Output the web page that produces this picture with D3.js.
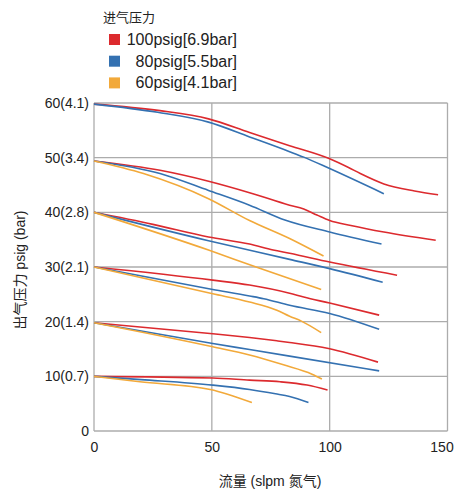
<!DOCTYPE html>
<html><head><meta charset="utf-8">
<script src="https://cdn.jsdelivr.net/npm/d3@7"></script>
<style>
body{margin:0;background:#fff;}
svg{font-family:"Liberation Sans",Arial,"Noto Sans CJK SC",sans-serif;}
</style></head>
<body><svg id="c" width="461" height="490"></svg>
<script>
// ---- data ----
const legendTitle = "进气压力";
const seriesNames = ["100psig[6.9bar]", "80psig[5.5bar]", "60psig[4.1bar]"];
const seriesColors = ["#dc2a2e", "#3471b1", "#f2a93a"];
const xTicks = [0, 50, 100, 150];
const yTicks = [0, 10, 20, 30, 40, 50, 60];
const yTickLabels = ["0", "10(0.7)", "20(1.4)", "30(2.1)", "40(2.8)", "50(3.4)", "60(4.1)"];
const xTitle = "流量 (slpm 氮气)";
const yTitle = "出气压力 psig (bar)";

// each curve: [flow slpm, outlet psig]
const curves100 = [
  [[0,59.8],[28,58.6],[48.6,57.1],[66,54.6],[83,52.2],[100,49.8],[108,48.2],[113,47.1],[123,45.2],[136,43.9],[146,43.2]],
  [[0,49.4],[28,47.7],[48.6,45.7],[66,43.6],[83,41.3],[89,40.6],[94.6,39.5],[100,38.5],[109,37.6],[123,36.4],[145,34.9]],
  [[0,40],[25,37.8],[48.6,35.5],[66,34.2],[76,33.1],[83,32.5],[100,30.9],[128.6,28.5]],
  [[0,30],[50.4,27.6],[66,26.7],[83,25.2],[89,24.5],[100,23.4],[121,21.2]],
  [[0,19.8],[50.4,17.8],[66,17.1],[77.6,16.5],[83,16.2],[99.5,15.1],[120.5,12.6]],
  [[0,10],[50.4,9.7],[66,9.3],[79,9.0],[90.4,8.4],[99.1,7.5]]
];
const curves80 = [
  [[0,59.8],[27,58.3],[48.6,56.5],[66,53.8],[83,51.1],[89,50.1],[100,48.0],[123,43.4]],
  [[0,49.4],[28,47.1],[48.6,44.0],[66,41.3],[81,38.6],[100,36.4],[122,34.2]],
  [[0,40],[48.6,34.8],[83,31.4],[100,29.7],[122.5,27.2]],
  [[0,30],[50.4,25.9],[66,24.7],[72,24.2],[83,23.0],[100,21.5],[121,18.6]],
  [[0,19.8],[50.4,16.0],[66,14.9],[83,13.7],[121,11.0]],
  [[0,10],[20,9.4],[50.4,8.4],[66,7.6],[77,6.8],[83,6.3],[91,5.2]]
];
const curves60 = [
  [[0,49.4],[21,47.1],[48.6,42.5],[66,38.5],[83,35.2],[97.4,32.0]],
  [[0,40],[48.6,33.1],[70,29.8],[96.4,25.9]],
  [[0,30],[50.4,25.1],[66,23.6],[77.6,22.1],[83,21.0],[88,20.1],[96.4,18.0]],
  [[0,19.8],[50.4,15.4],[66,13.9],[80.4,12.1],[92.5,10.4],[96.7,9.5]],
  [[0,10],[19.5,9.0],[49.3,7.6],[67,5.2]]
];
const allCurves = [curves100, curves80, curves60];

// ---- chart ----
const svg = d3.select("#c");
const x = d3.scaleLinear().domain([0,150]).range([94,447.5]);
const y = d3.scaleLinear().domain([0,60]).range([431,103]);
const gridColor = "#acacac";

const grid = svg.append("g");
grid.selectAll("line.h").data(yTicks).join("line")
  .attr("x1", x(0)).attr("x2", x(150))
  .attr("y1", d => y(d)).attr("y2", d => y(d))
  .attr("stroke", gridColor).attr("stroke-width", 1.3);
grid.selectAll("line.v").data(xTicks).join("line")
  .attr("x1", d => x(d)).attr("x2", d => x(d))
  .attr("y1", y(0)).attr("y2", y(60))
  .attr("stroke", gridColor).attr("stroke-width", 1.3);

// axes labels
const xAxis = d3.axisBottom(x).tickValues(xTicks).tickSize(0).tickPadding(11);
svg.append("g").attr("transform", `translate(0,${y(0)})`).call(xAxis)
  .call(g => g.select(".domain").remove())
  .call(g => g.selectAll("text").attr("font-size", 14).attr("fill", "#222")
    .attr("font-family", "Liberation Sans, Arial, sans-serif")
    .attr("dx", d => d === 150 ? -6 : 0));
const yAxis = d3.axisLeft(y).tickValues(yTicks).tickSize(0).tickPadding(5)
  .tickFormat((d,i) => yTickLabels[i]);
svg.append("g").attr("transform", `translate(${x(0)},0)`).call(yAxis)
  .call(g => g.select(".domain").remove())
  .call(g => g.selectAll("text").attr("font-size", 14).attr("fill", "#222")
    .attr("font-family", "Liberation Sans, Arial, sans-serif"));

// lines
const line = d3.line().x(d => x(d[0])).y(d => y(d[1])).curve(d3.curveMonotoneX);
allCurves.forEach((curves, si) => {
  svg.append("g").selectAll("path").data(curves).join("path")
    .attr("d", line).attr("fill", "none")
    .attr("stroke", seriesColors[si]).attr("stroke-width", 1.6)
    .attr("stroke-linejoin", "round");
});

// axis titles
svg.append("text").attr("x", 270).attr("y", 486).attr("text-anchor", "middle")
  .attr("font-size", 14).attr("fill", "#222").text(xTitle);
svg.append("text").attr("transform", "translate(25,270) rotate(-90)")
  .attr("text-anchor", "middle").attr("font-size", 14).attr("fill", "#222").text(yTitle);

// legend
svg.append("text").attr("x", 103).attr("y", 22).attr("font-size", 13)
  .attr("fill", "#222").text(legendTitle);
const lg = svg.append("g").selectAll("g").data(seriesNames).join("g")
  .attr("transform", (d,i) => `translate(0,${39.5 + i*21.7})`);
lg.append("rect").attr("x", 109).attr("y", -5.5).attr("width", 11).attr("height", 11)
  .attr("fill", (d,i) => seriesColors[i]);
lg.append("text").attr("x", 237).attr("y", 5.5).attr("text-anchor", "end")
  .attr("font-size", 16).attr("fill", "#222").text(d => d);
</script></body></html>
